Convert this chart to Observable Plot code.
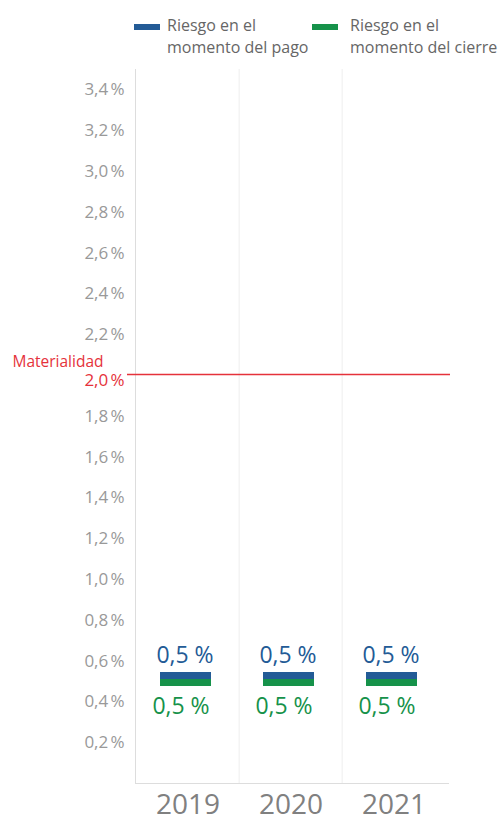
<!DOCTYPE html>
<html><head><meta charset="utf-8">
<script src="https://cdn.jsdelivr.net/npm/d3@7"></script>
<script src="https://cdn.jsdelivr.net/npm/@observablehq/plot@0.6"></script>
<style>
body{margin:0;background:#fff;font-family:"Open Sans",sans-serif;}
#wrap{position:relative;width:501px;}
#legend{position:relative;height:58px;}
.sw{position:absolute;width:26px;height:6px;top:24px;}
.lt{position:absolute;top:14px;font-size:16px;line-height:22px;color:#666;}
</style></head>
<body><div id="wrap"><div id="legend"></div><div id="chart"></div></div>
<script>
const years = ["2019", "2020", "2021"];
const riesgoPago = [0.5, 0.5, 0.5];
const riesgoCierre = [0.5, 0.5, 0.5];
const materialidad = 2.0;
const yTicks = [0.2,0.4,0.6,0.8,1.0,1.2,1.4,1.6,1.8,2.0,2.2,2.4,2.6,2.8,3.0,3.2,3.4];
const seriesNames = ["Riesgo en el momento del pago", "Riesgo en el momento del cierre"];
const colors = ["#235b96", "#16924a"];
const red = "#e5323b";

const legendEl = document.getElementById("legend");
const legendX = [[134,167],[312,350]];
seriesNames.forEach((n,i)=>{
  const sw = document.createElement("div"); sw.className="sw";
  sw.style.left = legendX[i][0]+"px"; sw.style.background = colors[i];
  legendEl.appendChild(sw);
  const t = document.createElement("div"); t.className="lt";
  t.style.left = legendX[i][1]+"px";
  t.innerHTML = n.replace(" el ", " el<br>");
  legendEl.appendChild(t);
});

const data = years.map((y,i)=>({year:y, pago:riesgoPago[i], cierre:riesgoCierre[i]}));
const fmt = v => v.toFixed(1).replace(".", ",") + "\u202F%";
const fmtV = v => v.toFixed(1).replace(".", ",") + " %";

const W = 501, H = 765, mL = 135, mR = 55;
const bw = (W - mL - mR) / years.length;

const plot = Plot.plot({
  width: W, height: H,
  marginLeft: mL, marginRight: mR, marginTop: 11, marginBottom: 40,
  style: {fontFamily: "Open Sans, sans-serif", background: "#fff", overflow: "visible"},
  x: {type: "band", domain: years, padding: 0},
  y: {domain: [0, 3.5], axis: null},
  marks: [
    Plot.ruleX(years.slice(1), {x: d => d, dx: -bw/2, stroke: "#eeeeee", strokeWidth: 1}),
    Plot.frame({anchor: "left", stroke: "#dddddd"}),
    Plot.frame({anchor: "bottom", stroke: "#dddddd", insetRight: -2}),
    Plot.text(yTicks, {y: d => d, text: d => fmt(d), frameAnchor: "left", textAnchor: "end", dx: -11,
      fontSize: 17, fill: d => d === materialidad ? red : "#999999"}),
    Plot.ruleY([materialidad], {stroke: red, strokeWidth: 1.5, insetLeft: -8, insetRight: -4, dy: -1}),
    Plot.text([materialidad], {y: d => d, text: () => "Materialidad", frameAnchor: "left", textAnchor: "end",
      dx: -32, dy: -13, fill: red, fontSize: 15.5}),
    Plot.rect(data, {x: "year", y1: "pago", y2: "pago", insetTop: -7, insetLeft: 24, insetRight: 28, dy: -2, fill: colors[0]}),
    Plot.rect(data, {x: "year", y1: "cierre", y2: "cierre", insetBottom: -7, insetLeft: 24, insetRight: 28, dy: -2, fill: colors[1]}),
    Plot.text(data, {x: "year", y: "pago", text: d => fmtV(d.pago), dy: -26, dx: -3, fontSize: 23, fill: colors[0]}),
    Plot.text(data, {x: "year", y: "cierre", text: d => fmtV(d.cierre), dy: 25, dx: -7, fontSize: 23, fill: colors[1]}),
    Plot.axisX({tickSize: 0, tickPadding: 11, fontSize: 28, color: "#808080", label: null})
  ]
});
document.getElementById("chart").appendChild(plot);
// the red 2,0 % tick label sits slightly below the materiality line in the reference
plot.querySelectorAll("text").forEach(t => {
  if (t.textContent === fmt(materialidad)) {
    const y = +t.getAttribute("y");
    if (!isNaN(y)) t.setAttribute("y", y + 5);
    else t.setAttribute("dy", "5");
  }
});
</script></body></html>
